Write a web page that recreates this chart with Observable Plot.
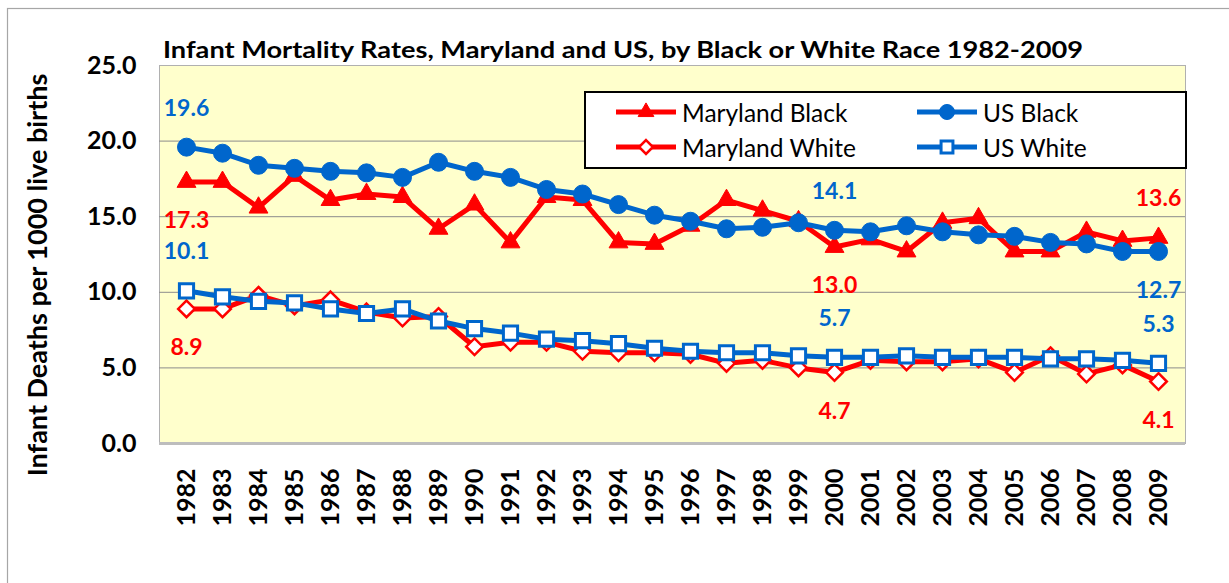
<!DOCTYPE html>
<html><head><meta charset="utf-8">
<script src="https://cdn.jsdelivr.net/npm/d3@7"></script>
<script src="https://cdn.jsdelivr.net/npm/@observablehq/plot@0.6"></script>
<style>body{margin:0;background:#fff;} svg{display:block;}</style>
</head><body><div id="chart"></div>
<script>
const years = [1982,1983,1984,1985,1986,1987,1988,1989,1990,1991,1992,1993,1994,1995,1996,1997,1998,1999,2000,2001,2002,2003,2004,2005,2006,2007,2008,2009];
const marylandBlack = [17.3,17.3,15.6,17.7,16.1,16.5,16.3,14.2,15.8,13.3,16.3,16.1,13.3,13.2,14.4,16.1,15.4,14.7,13.0,13.5,12.7,14.6,14.9,12.7,12.7,14.0,13.4,13.6];
const marylandWhite = [8.9,8.9,9.8,9.1,9.5,8.7,8.3,8.4,6.4,6.7,6.7,6.1,6.0,6.0,5.9,5.3,5.5,5.0,4.7,5.5,5.4,5.4,5.6,4.7,5.8,4.6,5.2,4.1];
const usBlack = [19.6,19.2,18.4,18.2,18.0,17.9,17.6,18.6,18.0,17.6,16.8,16.5,15.8,15.1,14.7,14.2,14.3,14.6,14.1,14.0,14.4,14.0,13.8,13.7,13.3,13.2,12.7,12.7];
const usWhite = [10.1,9.7,9.4,9.3,8.9,8.6,8.9,8.1,7.6,7.3,6.9,6.8,6.6,6.3,6.1,6.0,6.0,5.8,5.7,5.7,5.8,5.7,5.7,5.7,5.6,5.6,5.5,5.3];
const seriesNames = ["Maryland Black","Maryland White","US Black","US White"];
const yTicks = [0,5,10,15,20,25];
const gridTicks = [5,10,15,20];
const labelYears = [1982,2000,2009];
const titleText = "Infant Mortality Rates, Maryland and US, by Black or White Race 1982-2009";
const yLabelText = "Infant Deaths per 1000 live births";

const RED = "#FF0000", BLUE = "#0066CC";
const seriesValues = {"Maryland Black": marylandBlack, "Maryland White": marylandWhite, "US Black": usBlack, "US White": usWhite};
const styles = {
  "Maryland Black": {color: RED, symbol: "triangle", fill: RED, r: 7, sw: 1, race: "Black"},
  "Maryland White": {color: RED, symbol: "diamond2", fill: "#fff", r: 7.5, sw: 2.5, race: "White"},
  "US Black": {color: BLUE, symbol: "circle", fill: BLUE, r: 9, sw: 1, race: "Black"},
  "US White": {color: BLUE, symbol: "square", fill: "#fff", r: 8, sw: 3, race: "White"}
};
const rows = [];
seriesNames.forEach(s => years.forEach((yr, i) => rows.push({series: s, year: yr, value: seriesValues[s][i]})));

// value labels: higher of the race pair placed above, lower below
const labelRows = [];
labelYears.forEach(yr => {
  const i = years.indexOf(yr);
  seriesNames.forEach(s => {
    const partner = seriesNames.find(o => o !== s && styles[o].race === styles[s].race);
    const v = seriesValues[s][i];
    labelRows.push({series: s, year: yr, value: v, above: v >= seriesValues[partner][i]});
  });
});

const seriesMarks = [];
seriesNames.forEach(s => {
  const st = styles[s];
  const data = rows.filter(d => d.series === s);
  seriesMarks.push(Plot.line(data, {x: "year", y: "value", stroke: st.color, strokeWidth: 5}));
  seriesMarks.push(Plot.dot(data, {x: "year", y: "value", symbol: () => st.symbol, r: st.r, fill: st.fill, stroke: st.color, strokeWidth: st.sw}));
});

const labelOpts = {x: "year", y: "value", text: d => d.value.toFixed(1), fill: d => styles[d.series].color, fontSize: 23, fontWeight: "bold"};

const plot = Plot.plot({
  width: 1229, height: 583,
  marginLeft: 159, marginRight: 44, marginTop: 65, marginBottom: 140,
  style: {fontFamily: "Lato", background: "transparent"},
  x: {type: "point", domain: years, padding: 0.5, axis: null},
  y: {domain: [0, 25], axis: null},
  color: {type: "identity"},
  marks: [
    Plot.frame({fill: "#FFFFCC", stroke: "#b0b0b0"}),
    Plot.ruleY(gridTicks, {stroke: "#8c8c8c", strokeWidth: 1}),
    Plot.ruleY([0], {stroke: "#bdbdbd", strokeWidth: 3}),
    Plot.axisY(yTicks, {tickSize: 0, tickPadding: 23, tickFormat: d => d.toFixed(1), fontSize: 25, fontWeight: "bold", fill: "#000", label: null}),
    Plot.axisX(years, {tickSize: 0, tickPadding: 25, tickRotate: -90, tickFormat: d => String(d), fontSize: 25, fontWeight: "bold", fill: "#000", label: null}),
    ...seriesMarks,
    Plot.text(labelRows.filter(d => d.above), {...labelOpts, dy: -39}),
    Plot.text(labelRows.filter(d => !d.above), {...labelOpts, dy: 39})
  ]
});

document.getElementById("chart").appendChild(plot);
const svg = d3.select(plot);

// outer frame (left/top visible)
svg.insert("rect", ":first-child").attr("x", 7.5).attr("y", 8.5).attr("width", 1400).attr("height", 800)
  .attr("fill", "#fff").attr("stroke", "#a6a6a6").attr("stroke-width", 1.2);

svg.append("text").attr("x", 163).attr("y", 58).attr("text-anchor", "start").attr("font-family", "Lato").attr("font-weight", "bold")
  .attr("font-size", 23.5).attr("fill", "#000").attr("textLength", 920).attr("lengthAdjust", "spacingAndGlyphs").text(titleText);

svg.append("text").attr("transform", "translate(36,275) rotate(-90)").attr("text-anchor", "middle")
  .attr("dominant-baseline", "central").attr("font-family", "Lato").attr("font-weight", "bold")
  .attr("font-size", 27).attr("fill", "#000").text(yLabelText);

// legend
const lg = svg.append("g");
lg.append("rect").attr("x", 585).attr("y", 92).attr("width", 601).attr("height", 76)
  .attr("fill", "#fff").attr("stroke", "#000").attr("stroke-width", 2);
const legendPos = {
  "Maryland Black": [616, 112], "Maryland White": [616, 147],
  "US Black": [917, 112], "US White": [917, 147]
};
const symMap = {triangle: d3.symbolTriangle, diamond2: d3.symbolDiamond2, circle: d3.symbolCircle, square: d3.symbolSquare};
seriesNames.forEach(s => {
  const st = styles[s]; const [lx, ly] = legendPos[s];
  lg.append("line").attr("x1", lx).attr("x2", lx + 60).attr("y1", ly).attr("y2", ly)
    .attr("stroke", st.color).attr("stroke-width", 5);
  lg.append("path").attr("transform", `translate(${lx + 30},${ly})`)
    .attr("d", d3.symbol(symMap[st.symbol], st.r * st.r * Math.PI * 0.7)())
    .attr("fill", st.fill).attr("stroke", st.color).attr("stroke-width", st.sw);
  lg.append("text").attr("x", lx + 66).attr("y", ly).attr("text-anchor", "start").attr("dominant-baseline", "central")
    .attr("font-family", "Lato").attr("font-size", 24.5).attr("fill", "#000").text(s);
});
</script></body></html>
